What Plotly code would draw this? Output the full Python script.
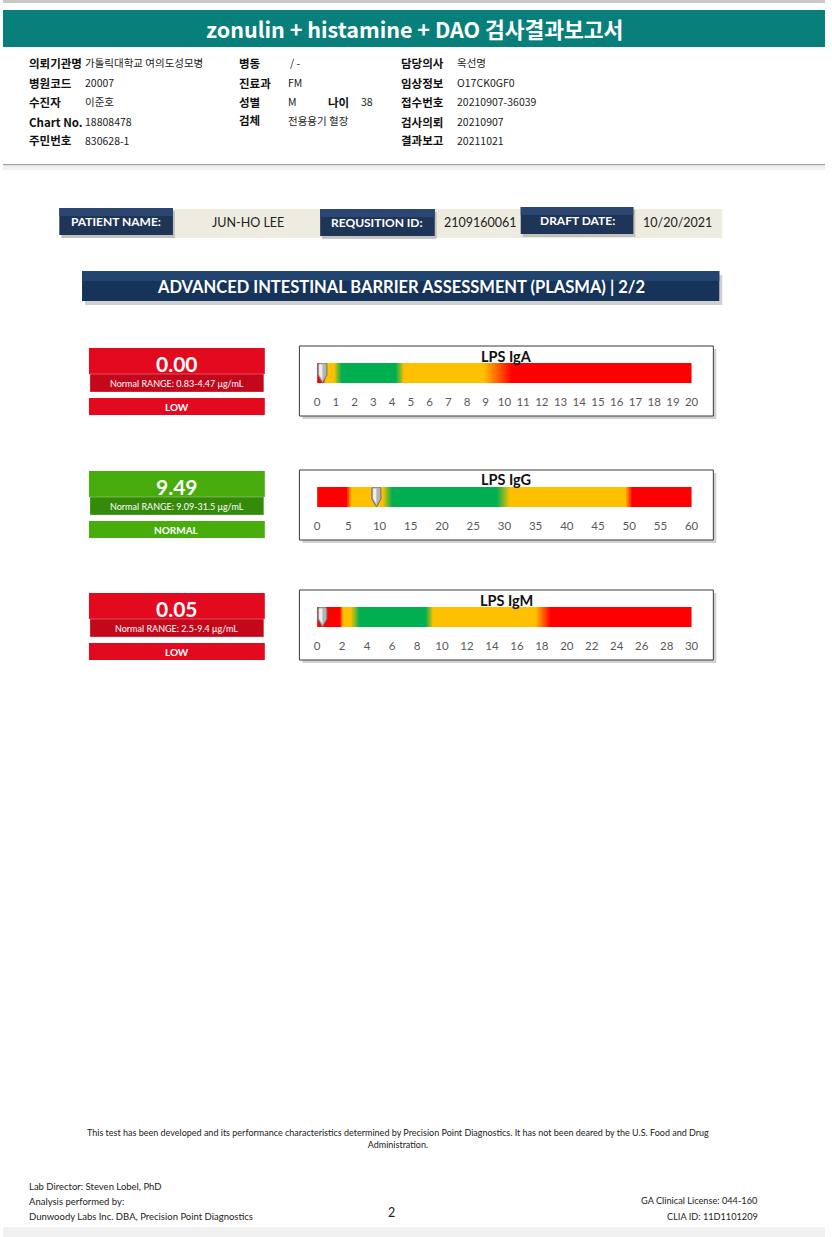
import numpy as np
import plotly.graph_objects as go

W, H = 832, 1237

# ---------------- data ----------------
analytes = ["LPS IgA", "LPS IgG", "LPS IgM"]
values = [0.00, 9.49, 0.05]
normal_low = [0.83, 9.09, 2.5]
normal_high = [4.47, 31.5, 9.4]
statuses = ["LOW", "NORMAL", "LOW"]
units = "μg/mL"
axis_max = [20, 60, 30]
tick_step = [1, 5, 2]

# colour-zone stops along each gauge (value, zone) zone: 0 red, 0.5 amber, 1 green
iga_stop_x = [0, 0.3, 0.45, 0.9, 1.3, 4.2, 4.65, 8.9, 10.4, 20]
iga_stop_z = [0, 0, 0.5, 0.5, 1, 1, 0.5, 0.5, 0, 0]
igg_stop_x = [0, 4.7, 5.5, 10.5, 12, 28.8, 30.9, 49.4, 50.5, 60]
igg_stop_z = [0, 0, 0.5, 0.5, 1, 1, 0.5, 0.5, 0, 0]
igm_stop_x = [0, 1.8, 2.1, 2.7, 3.4, 8.7, 9.3, 17.5, 18.7, 30]
igm_stop_z = [0, 0, 0.5, 0.5, 1, 1, 0.5, 0.5, 0, 0]
zone_stops = [(iga_stop_x, iga_stop_z), (igg_stop_x, igg_stop_z), (igm_stop_x, igm_stop_z)]

# header info
info_rows = [
    [("의뢰기관명", "가톨릭대학교 여의도성모병"), ("병동", "/ -"), ("담당의사", "옥선명")],
    [("병원코드", "20007"), ("진료과", "FM"), ("임상정보", "O17CK0GF0")],
    [("수진자", "이준호"), ("성별", "M"), ("접수번호", "20210907-36039")],
    [("Chart No.", "18808478"), ("검체", "전용용기 혈장"), ("검사의뢰", "20210907")],
    [("주민번호", "830628-1"), ("", ""), ("결과보고", "20211021")],
]
age_label, age_value = "나이", "38"
patient_name = "JUN-HO LEE"
requisition_id = "2109160061"
draft_date = "10/20/2021"
report_title = "zonulin + histamine + DAO 검사결과보고서"
section_title = "ADVANCED INTESTINAL BARRIER ASSESSMENT (PLASMA) | 2/2"

# ---------------- helpers ----------------
def px(x):
    return x / W

def py(y):
    return 1 - y / H

KR = "Noto Sans CJK KR"
EN = "Lato"
RED, AMBER, GREEN = "#FF0000", "#FFC000", "#00B050"

shapes = []
annotations = []

def rect(x0, y0, x1, y1, fill, line=None, lw=0, layer="above", opacity=1.0):
    shapes.append(dict(type="rect", xref="paper", yref="paper",
                       x0=px(x0), x1=px(x1), y0=py(y1), y1=py(y0),
                       fillcolor=fill, line=dict(color=line or fill, width=lw),
                       layer=layer, opacity=opacity))

def text(x, y, s, size=11, color="#000", bold=False, font=EN, xanchor="center"):
    annotations.append(dict(x=px(x), y=py(y), xref="paper", yref="paper",
                            text=f"<b>{s}</b>" if bold else s, showarrow=False,
                            xanchor=xanchor, yanchor="middle",
                            font=dict(size=size, color=color, family=font)))

# ---------------- page header ----------------
rect(0, 0, W, 3, "#C8C8C8")
rect(0, 10, W, 47, "#087F7B")
text(416, 29, report_title, size=21.5, color="white", bold=True, font=KR)

row_y = [63, 83, 102, 122, 140]
col_label = [24, 237, 401]
col_value = [81, 286, 458]
for r, row in enumerate(info_rows):
    for c, (lab, val) in enumerate(row):
        yy = row_y[r] - (2 if (r == 3 and c == 1) else 0)
        if lab:
            text(col_label[c], yy, lab, size=11.5, bold=True, font=KR, xanchor="left", color="#111")
        if val:
            text(col_value[c] + (2 if c == 1 and r == 0 else 0), yy, val, size=10.5, font=KR,
                 xanchor="left", color="#222")
text(327, row_y[2], age_label, size=11.5, bold=True, font=KR, xanchor="left", color="#111")
text(360, row_y[2], age_value, size=10.5, font=KR, xanchor="left", color="#222")

rect(0, 164, W, 165.5, "#A0A0A0")
rect(0, 165.5, W, 170, "#F0F0F0")

# ---------------- patient bar ----------------
rect(60, 209, 728, 238, "#EEECE1")
buttons = [(57, 172, 208, 235, "PATIENT NAME:"), (321, 437, 209, 236, "REQUSITION ID:"),
           (524, 638, 207, 234, "DRAFT DATE:")]
for x0, x1, y0, y1, lab in buttons:
    rect(x0 + 2, y0 + 3, x1 + 2, y1 + 3, "#8C8C8C", opacity=0.45)
    rect(x0, y0, x1, y1, "#1E3557")
    rect(x0, y0, x1, y0 + 8, "#2B4670")
    text((x0 + x1) / 2, (y0 + y1) / 2, lab, size=12, color="white", bold=True)
text(248, 223, patient_name, size=12.5, color="#222")
text(483, 223, requisition_id, size=12.5, color="#222")
text(683, 223, draft_date, size=12.5, color="#222")

# ---------------- section banner ----------------
rect(83, 275, 728, 305, "#9A9A9A", opacity=0.45)
rect(80, 271, 725, 301, "#16345A")
rect(80, 271, 725, 281, "#21456F")
text(403, 287, section_title, size=16.5, color="white", bold=True)

# ---------------- result boxes + gauges ----------------
row_top = [348, 471, 593]
frame_top = [346, 470, 590]
box_x0, box_x1 = 87, 265
frame_x0, frame_x1 = 300, 719
bar_x0, bar_x1 = 318, 697
status_col = {"LOW": ("#E30A20", "#C4081C"), "NORMAL": ("#47AC0C", "#368A0A")}

fig = go.Figure()
layout_axes = {}
for i in range(3):
    t = row_top[i]
    main_c, dark_c = status_col[statuses[i]]
    # value box
    rect(box_x0, t, box_x1, t + 26, main_c)
    rect(box_x0 + 1, t + 26, box_x1 - 1, t + 44, dark_c, line="rgba(255,255,255,0.35)", lw=0.8)
    rect(box_x0, t + 50, box_x1, t + 67, main_c)
    text((box_x0 + box_x1) / 2, t + 15, f"{values[i]:.2f}", size=21, color="white", bold=True)
    text((box_x0 + box_x1) / 2, t + 35.5,
         f"Normal RANGE: {normal_low[i]:g}-{normal_high[i]:g} {units}", size=9, color="white")
    text((box_x0 + box_x1) / 2, t + 59, statuses[i], size=10, color="white", bold=True)

    # gauge frame
    ft = frame_top[i]
    rect(frame_x0 + 3, ft + 3, frame_x1 + 3, ft + 73, "#B0B0B0", layer="below", opacity=0.6)
    rect(frame_x0, ft, frame_x1, ft + 70, "white", line="#3A3A3A", lw=1, layer="below")
    text((bar_x0 + bar_x1) / 2 + 2, ft + 10, analytes[i], size=14.5, bold=True, color="#111")

    bar_top = ft + 17
    bar_bot = bar_top + 20
    sfx = "" if i == 0 else str(i + 1)
    mx = axis_max[i]
    grid = np.linspace(0, mx, 600)
    sx, sz = zone_stops[i]
    zrow = np.interp(grid, sx, sz)
    fig.add_trace(go.Heatmap(
        x=grid, y=[0], z=[zrow], zmin=0, zmax=1,
        colorscale=[[0, RED], [0.5, AMBER], [1, GREEN]],
        showscale=False, hoverinfo="skip",
        xaxis="x" + sfx, yaxis="y" + sfx))
    layout_axes["xaxis" + sfx] = dict(
        domain=[px(bar_x0), px(bar_x1)], anchor="y" + sfx, range=[0, mx],
        tickmode="array", tickvals=list(range(0, mx + 1, tick_step[i])),
        showgrid=False, zeroline=False, showline=False,
        ticks="outside", ticklen=8, tickcolor="rgba(0,0,0,0)",
        tickfont=dict(size=11.5, color="#595959", family=EN), fixedrange=True)
    layout_axes["yaxis" + sfx] = dict(
        domain=[py(bar_bot), py(bar_top)], anchor="x" + sfx, range=[-0.5, 0.5],
        visible=False, fixedrange=True)

    # pointer (clamped so it stays inside the bar)
    min_pos = 5.3 / (bar_x1 - bar_x0) * mx
    pos = max(values[i], min_pos)
    shapes.append(dict(type="path", xref="x" + sfx, yref="y" + sfx,
                       xsizemode="pixel", ysizemode="pixel", xanchor=pos, yanchor=0.5,
                       path="M -4.5,-2 Q -4.5,0 -2.5,0 L 2.5,0 Q 4.5,0 4.5,-2 L 4.5,-12 L 0,-20 L -4.5,-12 Z",
                       fillcolor="#B4B4B4", line=dict(color="#6E6E6E", width=1), layer="above"))
    shapes.append(dict(type="path", xref="x" + sfx, yref="y" + sfx,
                       xsizemode="pixel", ysizemode="pixel", xanchor=pos, yanchor=0.5,
                       path="M -3.3,-1.5 L 0,-1.5 L 0,-17 L -3.3,-11.5 Z",
                       fillcolor="#EEEEEE", line=dict(width=0), layer="above"))

# ---------------- footer ----------------
text(400, 1138,
     "This test has been developed and its performance characteristics determined by Precision Point Diagnostics. "
     "It has not been deared by the U.S. Food and Drug<br>Administration.",
     size=9, color="#222")
text(24, 1186, "Lab Director: Steven Lobel, PhD", size=9.5, color="#222", xanchor="left")
text(24, 1201, "Analysis performed by:", size=9.5, color="#222", xanchor="left")
text(24, 1216, "Dunwoody Labs Inc. DBA, Precision Point Diagnostics", size=9.5, color="#222", xanchor="left")
text(393, 1212, "2", size=12.5, color="#222")
text(766, 1200, "GA Clinical License: 044-160", size=9.2, color="#222", xanchor="right")
text(766, 1216, "CLIA ID: 11D1101209", size=9.2, color="#222", xanchor="right")
rect(0, 1227, W, H, "#F0F0F0")

fig.update_layout(
    autosize=True, margin=dict(l=0, r=0, t=0, b=0),
    paper_bgcolor="white", plot_bgcolor="rgba(0,0,0,0)",
    showlegend=False, shapes=shapes, annotations=annotations,
    **layout_axes)

# the graph div is pinned to the page's top-left corner at exactly W x H pixels
fig.write_html("out.html", config={"displayModeBar": False, "responsive": False},
               default_width=f"{W}px; position:absolute; left:0px; top:0px",
               default_height=f"{H}px")
